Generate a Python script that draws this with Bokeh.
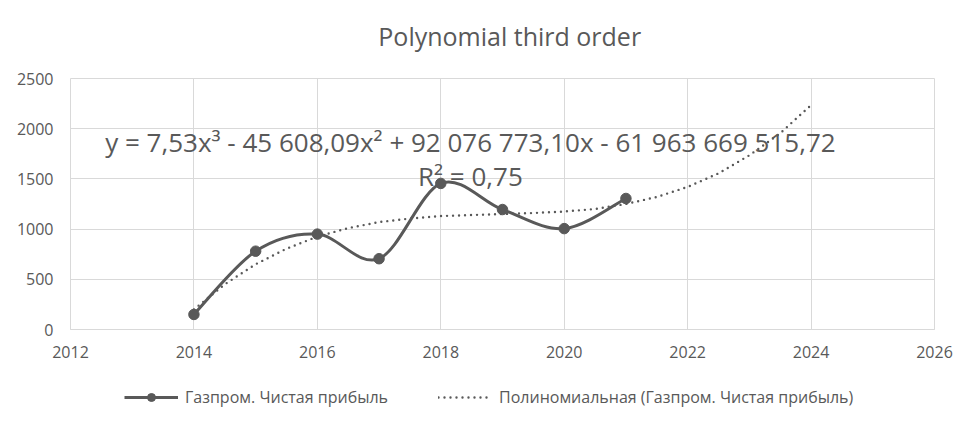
from bokeh.plotting import figure
from bokeh.layouts import column
from bokeh.models import Legend, LegendItem, Label, FixedTicker, Range1d
from bokeh.embed import file_html
from bokeh.resources import INLINE

# ---- data ----
years = [2014, 2015, 2016, 2017, 2018, 2019, 2020, 2021]
profit = [150, 780, 950, 705, 1455, 1195, 1005, 1305]

trend_years = [2014, 2014.5, 2015, 2015.5, 2016, 2016.5, 2017, 2017.5, 2018, 2018.5,
               2019, 2019.5, 2020, 2020.5, 2021, 2021.5, 2022, 2022.5, 2023, 2023.5, 2024]
trend_values = [200, 450, 650, 805, 925, 1010, 1070, 1105, 1130, 1140,
                1150, 1160, 1175, 1200, 1250, 1320, 1420, 1555, 1735, 1955, 2235]

x_ticks = [2012, 2014, 2016, 2018, 2020, 2022, 2024, 2026]
y_ticks = [0, 500, 1000, 1500, 2000, 2500]

title_text = "Polynomial third order"
equation_text = "y = 7,53x³ - 45 608,09x² + 92 076 773,10x - 61 963 669 515,72"
r2_text = "R² = 0,75"
series_label = "Газпром. Чистая прибыль"
trend_label = "Полиномиальная (Газпром. Чистая прибыль)"

GRAY = "#595959"
GRID = "#d9d9d9"
FONT = "Open Sans"


def strip(height, xr, yr):
    f = figure(width=960, height=height, output_backend="svg", toolbar_location=None,
               x_range=xr, y_range=yr, x_axis_type=None, y_axis_type=None,
               min_border_left=0, min_border_right=0, min_border_top=0,
               min_border_bottom=0)
    f.grid.visible = False
    f.outline_line_color = None
    f.background_fill_color = "white"
    f.border_fill_color = "white"
    return f


# ---- title strip ----
tf = strip(60, Range1d(0, 960), Range1d(0, 60))
tf.add_layout(Label(x=488, y=25, text=title_text, text_align="center",
                    text_baseline="middle", text_font=FONT, text_font_size="25px",
                    text_color=GRAY))

# ---- main chart ----
p = figure(width=960, height=302, output_backend="svg", toolbar_location=None,
           x_range=Range1d(2012, 2026), y_range=Range1d(0, 2500),
           min_border_left=70, min_border_right=26, min_border_top=18,
           min_border_bottom=33)
p.outline_line_color = GRID
p.background_fill_color = "white"
p.border_fill_color = "white"

p.xaxis.ticker = FixedTicker(ticks=x_ticks)
p.yaxis.ticker = FixedTicker(ticks=y_ticks)
for ax in (p.xaxis[0], p.yaxis[0]):
    ax.major_tick_line_color = None
    ax.minor_tick_line_color = None
    ax.major_tick_out = 0
    ax.minor_tick_out = 0
    ax.major_label_text_color = GRAY
    ax.major_label_text_font = FONT
    ax.major_label_text_font_size = "16px"
p.xaxis.axis_line_color = GRID
p.yaxis.axis_line_color = None
p.xaxis.major_label_standoff = 16
p.yaxis.major_label_standoff = 17
p.xgrid.grid_line_color = GRID
p.ygrid.grid_line_color = GRID

# smoothed series drawn as bezier segments through the data points
n = len(years)
x0, y0, x1, y1, cx0, cy0, cx1, cy1 = [], [], [], [], [], [], [], []
for i in range(n - 1):
    pi = max(i - 1, 0)
    ni = min(i + 2, n - 1)
    x0.append(years[i]); y0.append(profit[i])
    x1.append(years[i + 1]); y1.append(profit[i + 1])
    cx0.append(years[i] + (years[i + 1] - years[pi]) / 6)
    cy0.append(profit[i] + (profit[i + 1] - profit[pi]) / 6)
    cx1.append(years[i + 1] - (years[ni] - years[i]) / 6)
    cy1.append(profit[i + 1] - (profit[ni] - profit[i]) / 6)

trend_style = dict(line_color=GRAY, line_width=2.4, line_dash="0 6", line_cap="round")
series_line_style = dict(line_color=GRAY, line_width=3)
marker_style = dict(size=10.5, fill_color=GRAY, line_color=GRAY)

p.line(trend_years, trend_values, **trend_style)
p.bezier(x0=x0, y0=y0, x1=x1, y1=y1, cx0=cx0, cy0=cy0, cx1=cx1, cy1=cy1,
         **series_line_style)
p.scatter(years, profit, **marker_style)

p.add_layout(Label(x=2018.48, y=1870, text=equation_text, text_align="center",
                   text_baseline="middle", text_font=FONT, text_font_size="26px",
                   text_color=GRAY))
p.add_layout(Label(x=2018.48, y=1530, text=r2_text, text_align="center",
                   text_baseline="middle", text_font=FONT, text_font_size="26px",
                   text_color=GRAY))

# ---- legend strip: its ranges keep the (same) series out of view ----
lf = strip(49, Range1d(0, 1), Range1d(0, 1))
leg_line = lf.line(years, profit, **series_line_style)
leg_pts = lf.scatter(years, profit, **marker_style)
leg_trend = lf.line(trend_years, trend_values, **trend_style)

legend = Legend(items=[LegendItem(label=series_label, renderers=[leg_line, leg_pts]),
                       LegendItem(label=trend_label, renderers=[leg_trend])],
                orientation="horizontal", location=(54, 3),
                label_text_font=FONT, label_text_font_size="16px",
                label_text_color=GRAY, glyph_width=54, spacing=50,
                label_standoff=7, border_line_color=None,
                background_fill_alpha=0, margin=0, padding=4)
lf.add_layout(legend, "center")

layout = column(tf, p, lf, spacing=0)
open("out.html", "w").write(file_html(layout, INLINE))
